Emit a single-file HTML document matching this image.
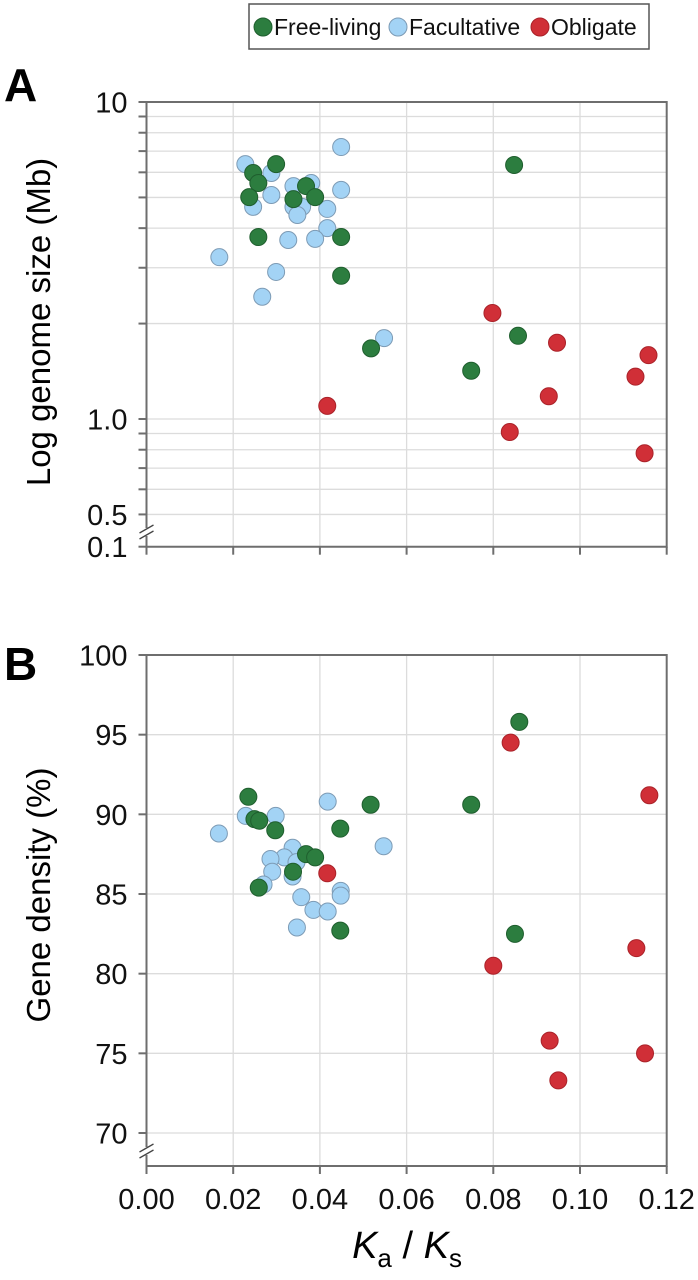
<!DOCTYPE html>
<html><head><meta charset="utf-8">
<style>
html,body{margin:0;padding:0;background:#fff;}
svg{display:block;font-family:"Liberation Sans",Arial,sans-serif;}
</style></head>
<body>
<svg id="chart" width="698" height="1280" viewBox="0 0 698 1280">
  <g>
    <rect x="249" y="4" width="400" height="45" fill="#fff" stroke="#555" stroke-width="1.5"/>
    <g>
      <circle cx="263" cy="27" r="9" fill="#2c7d3f" stroke="#1f5e2e" stroke-width="1"/>
      <text x="274" y="35" font-size="23" fill="#111">Free-living</text>
    </g>
    <g>
      <circle cx="398" cy="27" r="9" fill="#a3d3f5" stroke="#7d9bb5" stroke-width="1"/>
      <text x="409" y="35" font-size="23" fill="#111">Facultative</text>
    </g>
    <g>
      <circle cx="540" cy="27" r="9" fill="#d02f37" stroke="#aa2229" stroke-width="1"/>
      <text x="551" y="35" font-size="23" fill="#111">Obligate</text>
    </g>
  </g>
  <text x="4" y="101" font-size="46" font-weight="bold" fill="#000">A</text>
  <text x="4" y="680" font-size="46" font-weight="bold" fill="#000">B</text>
  <text transform="translate(50,322) rotate(-90)" text-anchor="middle" font-size="33" fill="#000">Log genome size (Mb)</text>
  <text transform="translate(50,895) rotate(-90)" text-anchor="middle" font-size="33" fill="#000">Gene density (%)</text>
  <text x="407" y="1258" text-anchor="middle" font-size="38" fill="#000"><tspan font-style="italic">K</tspan><tspan font-size="26" dy="9">a</tspan><tspan dy="-9"> / </tspan><tspan font-style="italic">K</tspan><tspan font-size="26" dy="9">s</tspan></text>
  <g id="pa"></g>
  <g id="pb"></g>
</svg>
<script>
// ---- data ----
const xTicks = [0, 0.02, 0.04, 0.06, 0.08, 0.10, 0.12];
const xTickLabels = ["0.00","0.02","0.04","0.06","0.08","0.10","0.12"];
const aMajorTicks = [10, 1.0, 0.5];
const aMajorLabels = ["10","1.0","0.5"];
const aMinorTicks = [0.6,0.7,0.8,0.9,2,3,4,5,6,7,8,9];
const bTicks = [70,75,80,85,90,95,100];
const bTickLabels = ["70","75","80","85","90","95","100"];

const facA_x = [0.0228,0.0288,0.0449,0.0339,0.0380,0.0449,0.0288,0.0246,0.0339,0.0359,0.0348,0.0417,0.0417,0.0327,0.0389,0.0168,0.0299,0.0267,0.0548];
const facA_y = [6.37,5.97,7.21,5.43,5.55,5.28,5.09,4.67,4.67,4.67,4.40,4.60,4.00,3.67,3.70,3.24,2.91,2.43,1.80];
const freeA_x = [0.0246,0.0299,0.0258,0.0237,0.0339,0.0368,0.0389,0.0258,0.0449,0.0449,0.0848,0.0518,0.0749,0.0857];
const freeA_y = [5.97,6.37,5.55,5.01,4.94,5.43,5.01,3.75,3.75,2.83,6.33,1.67,1.42,1.83];
const oblA_x = [0.0417,0.0798,0.0947,0.1158,0.1128,0.0928,0.0838,0.1149];
const oblA_y = [1.10,2.16,1.74,1.59,1.36,1.18,0.91,0.78];

const facB_x = [0.0167,0.0229,0.0298,0.0418,0.0547,0.0337,0.0318,0.0286,0.0346,0.0290,0.0337,0.0270,0.0357,0.0448,0.0448,0.0385,0.0418,0.0347];
const facB_y = [88.8,89.9,89.9,90.8,88.0,87.9,87.3,87.2,87.0,86.4,86.1,85.6,84.8,85.2,84.9,84.0,83.9,82.9];
const freeB_x = [0.0235,0.0249,0.0260,0.0297,0.0447,0.0517,0.0368,0.0389,0.0338,0.0259,0.0447,0.0860,0.0749,0.0850];
const freeB_y = [91.1,89.7,89.6,89.0,89.1,90.6,87.5,87.3,86.4,85.4,82.7,95.8,90.6,82.5];
const oblB_x = [0.0417,0.0840,0.1160,0.0800,0.1130,0.0930,0.1150,0.0950];
const oblB_y = [86.3,94.5,91.2,80.5,81.6,75.8,75.0,73.3];

// ---- scales ----
const X0=146.5, X1=666.7;
const sx = v => X0 + (v-0)/(0.12)*(X1-X0);
const A_top=102, A_bot=546.7;
const sya = v => 419 - Math.log10(v)*317;
const B_top=655, B_bot=1166;
const syb = v => B_top + (100-v)*(1133-655)/30;
const NS="http://www.w3.org/2000/svg";
function mk(parent, tag, attrs){const e=document.createElementNS(NS,tag);for(const k in attrs)e.setAttribute(k,attrs[k]);parent.appendChild(e);return e;}
const AX="#6e6e6e", GR="#dcdcdc";
const COL={free:["#2c7d3f","#1f5e2e"],fac:["#a3d3f5","#7d9bb5"],obl:["#d02f37","#aa2229"]};
const TF=29;

function frame(g, top, bot, name){
  xTicks.forEach((t,i)=>{
    if(i>0 && i<xTicks.length-1){
      const l=mk(g,"line",{x1:sx(t),x2:sx(t),y1:top,y2:bot,stroke:GR,"stroke-width":1.3});
      
      
    }
    const tk=mk(g,"line",{x1:sx(t),x2:sx(t),y1:bot,y2:bot+8,stroke:AX,"stroke-width":2});
    
    
  });
}
function axesBox(g, top, bot, name, breakY){
  const r=mk(g,"path",{d:`M${X0},${top} L${X1},${top} L${X1},${bot} L${X0},${bot} Z`,fill:"none",stroke:AX,"stroke-width":2});
  
  
  const w=mk(g,"rect",{x:X0-6,y:breakY-4,width:12,height:8,fill:"#fff"});
  
  
  [-3,3].forEach(d=>{
    const b=mk(g,"line",{x1:X0-7,y1:breakY+d+4,x2:X0+7,y2:breakY+d-4,stroke:"#444","stroke-width":1.3});
    
    
  });
}
function dots(g, xs, ys, sy, kind, name){
  xs.forEach((v,i)=>{
    const c=mk(g,"circle",{cx:sx(v),cy:sy(ys[i]),r:8.5,fill:COL[kind][0],stroke:COL[kind][1],"stroke-width":1});
    
    
  });
}

// ---- panel A ----
const ga=document.getElementById('pa');
aMinorTicks.concat(aMajorTicks).forEach(t=>{
  if(t<10){
    const l=mk(ga,"line",{x1:X0,x2:X1,y1:sya(t),y2:sya(t),stroke:GR,"stroke-width":1.3});
    
    
  }
  const tk=mk(ga,"line",{x1:X0-8,x2:X0,y1:sya(t),y2:sya(t),stroke:AX,"stroke-width":2});
  
  
});
aMajorTicks.forEach((t,i)=>{
  const tx=mk(ga,"text",{x:X0-19,y:sya(t)+10.5,"text-anchor":"end","font-size":TF,fill:"#111"});
  tx.textContent=aMajorLabels[i];
  
  
});
{
  const tk=mk(ga,"line",{x1:X0-8,x2:X0,y1:A_bot,y2:A_bot,stroke:AX,"stroke-width":2});
  
  
  const tx=mk(ga,"text",{x:X0-19,y:A_bot+10.5,"text-anchor":"end","font-size":TF,fill:"#111"});
  tx.textContent="0.1";
  
  
}
frame(ga, A_top, A_bot, 'panel-a');
axesBox(ga, A_top, A_bot, 'panel-a', 532);
dots(ga, facA_x, facA_y, sya, 'fac', 'panel-a-point-facultative');
dots(ga, freeA_x, freeA_y, sya, 'free', 'panel-a-point-free-living');
dots(ga, oblA_x, oblA_y, sya, 'obl', 'panel-a-point-obligate');

// ---- panel B ----
const gb=document.getElementById('pb');
bTicks.forEach((t,i)=>{
  if(t<100){
    const l=mk(gb,"line",{x1:X0,x2:X1,y1:syb(t),y2:syb(t),stroke:GR,"stroke-width":1.3});
    
    
  }
  const tk=mk(gb,"line",{x1:X0-8,x2:X0,y1:syb(t),y2:syb(t),stroke:AX,"stroke-width":2});
  
  
  const tx=mk(gb,"text",{x:X0-19,y:syb(t)+10.5,"text-anchor":"end","font-size":TF,fill:"#111"});
  tx.textContent=bTickLabels[i];
  
  
});
frame(gb, B_top, B_bot, 'panel-b');
xTicks.forEach((t,i)=>{
  const tx=mk(gb,"text",{x:sx(t),y:1209,"text-anchor":"middle","font-size":TF,fill:"#111"});
  tx.textContent=xTickLabels[i];
  
  
});
axesBox(gb, B_top, B_bot, 'panel-b', 1151);
dots(gb, facB_x, facB_y, syb, 'fac', 'panel-b-point-facultative');
dots(gb, freeB_x, freeB_y, syb, 'free', 'panel-b-point-free-living');
dots(gb, oblB_x, oblB_y, syb, 'obl', 'panel-b-point-obligate');
</script>
</body></html>
